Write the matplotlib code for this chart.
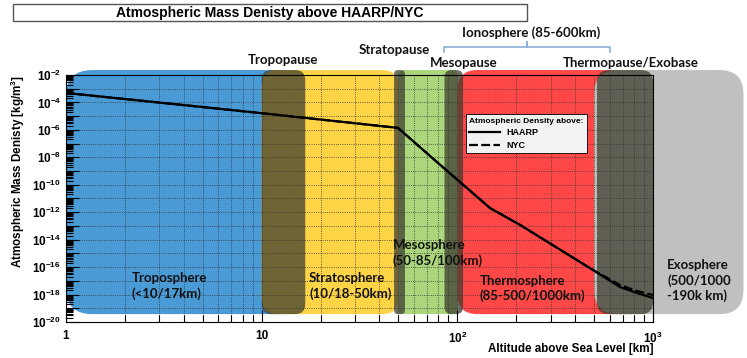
import numpy as np
import matplotlib
matplotlib.use("Agg")
import matplotlib.pyplot as plt
from matplotlib.patches import FancyBboxPatch, Rectangle
from matplotlib.ticker import LogLocator, FixedLocator, FuncFormatter, NullFormatter
import matplotlib.transforms as mtrans

plt.rcParams['font.family'] = ['Liberation Sans', 'DejaVu Sans']
plt.rcParams['font.weight'] = 'bold'
plt.rcParams['axes.labelweight'] = 'bold'
plt.rcParams['mathtext.fontset'] = 'custom'
plt.rcParams['mathtext.rm'] = 'Liberation Sans:bold'
plt.rcParams['mathtext.it'] = 'Liberation Sans:bold'
plt.rcParams['mathtext.bf'] = 'Liberation Sans:bold'

# density profiles
alt_km = [1, 3, 9.8, 49.7, 84.4, 147, 209, 493, 678, 828, 1000]
haarp_density = [4.9e-4, 9.8e-5, 1.7e-5, 1.4e-6, 1.9e-9, 2.0e-12, 1.2e-13,
                 6.2e-17, 3.5e-18, 1.3e-18, 5.6e-19]
nyc_density = [4.9e-4, 9.8e-5, 1.7e-5, 1.4e-6, 1.9e-9, 2.0e-12, 1.2e-13,
               6.2e-17, 5.0e-18, 1.8e-18, 9.3e-19]

# atmospheric layers (km)
layer_names = ['Troposphere\n(<10/17km)', 'Stratosphere\n(10/18-50km)',
               'Mesosphere\n(50-85/100km)', 'Thermosphere\n(85-500/1000km)',
               'Exosphere\n(500/1000\n-190k km)']
layer_start = [1, 10, 50, 100, 500]
layer_end = [17, 50, 100, 1000, 2900]
layer_colors = ['#4a9ad6', '#fed447', '#abd67b', '#fe4747', '#c0c0c0']

# boundary layers (km)
pause_names = ['Tropopause', 'Stratopause', 'Mesopause', 'Thermopause/Exobase']
pause_start = [10, 47.5, 86, 517]
pause_end = [16.7, 54, 107, 1000]

iono_range = [85, 600]

fig = plt.figure(figsize=(7.47, 3.58), dpi=100)
ax = fig.add_axes([66/747, 1-322/358, 587/747, 247/358])
ax.set_xscale('log')
ax.set_yscale('log')
ax.set_xlim(1, 1000)
ax.set_ylim(1e-20, 1e-2)

band_bottom, band_top = 0.032, 1.020
inv = fig.dpi_scale_trans.inverted()


def band(x0, x1, color, radius, alpha=1.0, z=0.2):
    px0 = ax.transData.transform((x0, 1e-10))[0]
    px1 = ax.transData.transform((x1, 1e-10))[0]
    py0 = ax.transAxes.transform((0, band_bottom))[1]
    py1 = ax.transAxes.transform((0, band_top))[1]
    ix0, iy0 = inv.transform((px0, py0))
    ix1, iy1 = inv.transform((px1, py1))
    p = FancyBboxPatch((ix0, iy0), ix1 - ix0, iy1 - iy0,
                       boxstyle=f"round,pad=0,rounding_size={radius/fig.dpi}",
                       transform=fig.dpi_scale_trans, fc=color, ec='none',
                       alpha=alpha, zorder=z, clip_on=False)
    ax.add_artist(p)


layer_radius = [26, 16, 6, 20, 24]
for i in range(len(layer_start)):
    band(layer_start[i], layer_end[i], layer_colors[i], layer_radius[i], z=0.2 + 0.01*i)
pause_radius = [10, 4, 7, 12]
for i in range(len(pause_start)):
    band(pause_start[i], pause_end[i], '#3d3d2f', pause_radius[i], alpha=0.74, z=0.3)

ax.set_axisbelow(True)
ax.grid(True, which='major', axis='both', ls=':', color='#333333', lw=0.6)
ax.grid(True, which='minor', axis='x', ls=':', color='#333333', lw=0.6)

ax.plot(alt_km, nyc_density, color='black', lw=1.6, ls=(0, (4, 1.5)), label='NYC', zorder=3)
ax.plot(alt_km, haarp_density, color='black', lw=1.6, label='HAARP', zorder=3)

ax.xaxis.set_major_locator(FixedLocator([1, 10, 100, 1000]))
ax.set_xticklabels(['1', '10', r'$10^{2}$', r'$10^{3}$'])
ax.xaxis.set_minor_locator(LogLocator(base=10, subs=np.arange(2, 10), numticks=30))
ax.xaxis.set_minor_formatter(NullFormatter())
ax.yaxis.set_major_locator(LogLocator(base=10, numticks=30))
ax.yaxis.set_minor_locator(LogLocator(base=10, subs=np.arange(2, 10), numticks=30))
ax.yaxis.set_minor_formatter(NullFormatter())


def ylab(v, pos):
    e = int(round(np.log10(v)))
    return r'$10^{%d}$' % e if e % 2 == 0 else ''


ax.yaxis.set_major_formatter(FuncFormatter(ylab))
ax.tick_params(which='both', direction='in', labelsize=8.5, width=0.8)
ax.tick_params(which='major', length=9)
ax.tick_params(which='minor', length=5)
ax.tick_params(axis='x', pad=6)

ax.set_ylabel('Atmospheric Mass Denisty [kg/m$^3$]', fontsize=8.4, fontweight='bold')
ax.yaxis.set_label_coords(-0.066, 0.611)
ax.set_xlabel('Altitude above Sea Level [km]', fontsize=8.4, fontweight='bold')
ax.xaxis.set_label_coords(1.0, -0.083)
ax.xaxis.label.set_ha('right')

h, l = ax.get_legend_handles_labels()
leg = ax.legend(h[::-1], l[::-1], title='Atmospheric Density above:', loc='upper left',
                bbox_to_anchor=(0.681, 0.842), borderaxespad=0, fontsize=6.5,
                title_fontsize=6, alignment='left', fancybox=False, edgecolor='black',
                facecolor='#f2f2f2', framealpha=1, handlelength=3.4, handletextpad=0.7,
                borderpad=0.4, labelspacing=0.4)
leg.get_frame().set_linewidth(0.6)
leg.set_zorder(5)

# title box
fig.add_artist(Rectangle((13/747, 1-21/358), 514/747, 17/358, transform=fig.transFigure,
                         fill=False, ec='#555555', lw=1))
fig.text(270/747, 1-13/358, 'Atmospheric Mass Denisty above HAARP/NYC', ha='center',
         va='center', fontsize=10)

ann = dict(family=['Lato', 'DejaVu Sans'], fontweight='bold', fontsize=9.5, color='#111111')
pause_pos = [(0.370, 1.061), (0.559, 1.101), (0.677, 1.049), (0.962, 1.049)]
for name, (x, y) in zip(pause_names, pause_pos):
    ax.text(x, y, name, transform=ax.transAxes, ha='center', va='center', **ann)

layer_pos = [(0.112, 0.146), (0.414, 0.146), (0.557, 0.279), (0.705, 0.136), (1.024, 0.168)]
for name, (x, y) in zip(layer_names, layer_pos):
    ax.text(x, y, name, transform=ax.transAxes, ha='left', va='center',
            linespacing=1.25, **ann)

# ionosphere bracket
tr = mtrans.blended_transform_factory(ax.transData, ax.transAxes)
mid = np.sqrt(iono_range[0] * iono_range[1])
ax.plot([iono_range[0], iono_range[0], mid, mid, mid, iono_range[1], iono_range[1]],
        [1.093, 1.113, 1.113, 1.134, 1.113, 1.113, 1.093], transform=tr,
        color='#8aaed6', lw=1.2, clip_on=False)
ax.text(mid * 1.05, 1.170, 'Ionosphere (85-600km)', transform=tr, ha='center',
        va='center', **ann)

fig.savefig('out.png', dpi=100)
